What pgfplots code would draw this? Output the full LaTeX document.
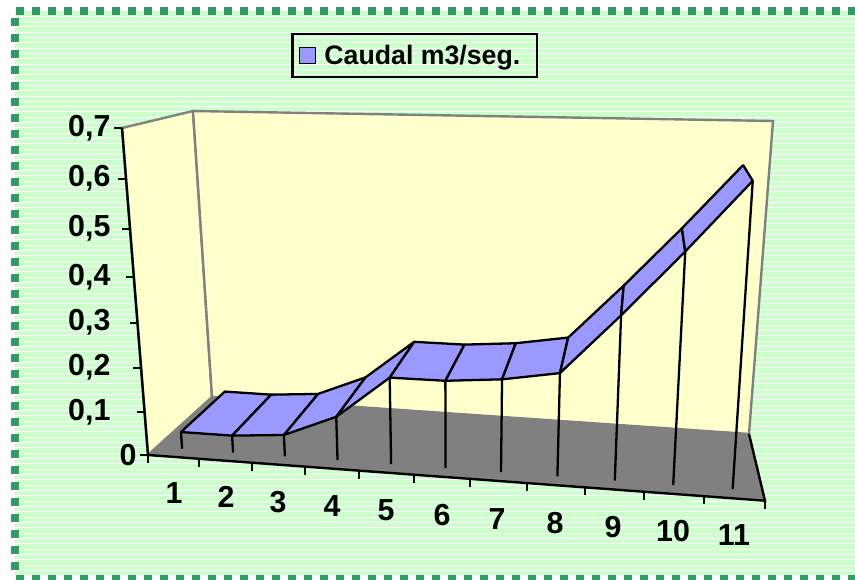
\documentclass[border=0pt]{standalone}
\usepackage{pgfplots}
\usepackage{pgfplotstable}
\pgfplotsset{compat=1.18}
\usepackage{fontspec}
\setmainfont{Liberation Sans}
\definecolor{bgreen}{HTML}{CCFFCC}
\definecolor{dashgreen}{HTML}{339966}
\definecolor{wall}{HTML}{FFFFCC}
\definecolor{ribbon}{HTML}{9999FF}
\definecolor{floorgray}{HTML}{808080}
\newcommand{\lab}{\fontsize{30.5}{31}\selectfont\bfseries}

% Caudal per category: c = category, d = depth in the 3D box (front / back edge), v = value
\pgfplotstableread[row sep=\\]{
c d v\\
1 0.14 0.04\\ 1 0.86 0.04\\
2 0.14 0.04\\ 2 0.86 0.04\\
3 0.14 0.05\\ 3 0.86 0.05\\
4 0.14 0.10\\ 4 0.86 0.10\\
5 0.14 0.195\\ 5 0.86 0.195\\
6 0.14 0.195\\ 6 0.86 0.195\\
7 0.14 0.205\\ 7 0.86 0.205\\
8 0.14 0.225\\ 8 0.86 0.225\\
9 0.14 0.35\\ 9 0.86 0.35\\
10 0.14 0.48\\ 10 0.86 0.48\\
11 0.14 0.615\\ 11 0.86 0.615\\
}\ribbontable

\pgfplotstableread{
c v
1 0.04
2 0.04
3 0.05
4 0.10
5 0.195
6 0.195
7 0.205
8 0.225
9 0.35
10 0.48
11 0.615
}\caudal

\begin{document}
\begin{tikzpicture}[
	% perspective of the Excel 3D box: axes to 0..1, then the 8 corners in pixels
	declare function={
		mapu(\t)=(\t/11)*0.91/(1-0.09*\t/11);
		mapz(\z)=(\z/0.7)*0.9/(1-0.1*\z/0.7);
		px(\u,\d,\f)=((1-\u)*(1-\d)*148+\u*(1-\d)*765+(1-\u)*\d*212+\u*\d*749)*(1-\f)
			+((1-\u)*(1-\d)*122+\u*(1-\d)*791+(1-\u)*\d*193+\u*\d*773)*\f;
		py(\u,\d,\f)=((1-\u)*(1-\d)*455+\u*(1-\d)*500.7+(1-\u)*\d*397+\u*\d*434)*(1-\f)
			+((1-\u)*(1-\d)*128+\u*(1-\d)*136+(1-\u)*\d*111+\u*\d*121)*\f;
	}]
	\begin{axis}[
			scale only axis,
			width=855bp,
			height=580bp,
			xmin=0, xmax=855,
			ymin=0, ymax=580,
			y dir=reverse,
			hide axis,
			clip=false,
			colormap={rib}{rgb255(0cm)=(153,153,255) rgb255(1cm)=(153,153,255)},
			legend style={
				at={(291.5/855,1-33/580)},
				anchor=north west,
				draw=black,
				line width=2.3bp,
				fill=none,
				font=\fontsize{26.8}{28}\selectfont\bfseries,
				inner xsep=6bp,
				inner ysep=9bp,
			},
		]
		% background with white stripes and dashed frame
		\fill[white] (axis cs:0,0) rectangle (axis cs:855,580);
		\fill[bgreen] (axis cs:15,11) rectangle (axis cs:855,576);
		\pgfplotsinvokeforeach{0,...,105}{
			\draw[white, line width=0.9bp] (axis cs:15,{16+#1*5.33}) -- (axis cs:855,{16+#1*5.33});
		}
		\draw[dashgreen, line width=8bp, dash pattern=on 8bp off 8bp] (axis cs:16,10.5) -- (axis cs:855,10.5);
		\draw[dashgreen, line width=8bp, dash pattern=on 8bp off 8bp] (axis cs:15,18) -- (axis cs:15,575);
		\draw[dashgreen, line width=5bp, dash pattern=on 8bp off 8bp] (axis cs:16,577.5) -- (axis cs:855,577.5);

		% walls and floor
		\addplot[fill=wall, draw=floorgray, line width=2.4bp, forget plot] coordinates {
			(148,455) (122,128) (193,111) (212,397) (148,455)
		};
		\addplot[fill=wall, draw=floorgray, line width=2.4bp, forget plot] coordinates {
			(212,397) (193,111) (773,121) (749,434) (212,397)
		};
		\addplot[fill=floorgray, draw=none, forget plot] coordinates {
			(148,455) (212,397) (749,434) (765,500.7) (148,455)
		};
		\addplot[black, line width=2.4bp, forget plot] coordinates {(122,128) (148,455) (765,500.7) (749,434)};

		% ticks
		\addplot[black, line width=2bp, forget plot, quiver={u=-8, v=0}] table[
			x expr={px(0,0,mapz(\thisrow{z}))},
			y expr={py(0,0,mapz(\thisrow{z}))},
		] {
			z
			0
			0.1
			0.2
			0.3
			0.4
			0.5
			0.6
			0.7
		};
		\addplot[black, line width=2bp, forget plot, quiver={u=0, v=8}] table[
			x expr={px(mapu(\thisrow{k}),0,0)},
			y expr={py(mapu(\thisrow{k}),0,0)},
		] {
			k
			0
			1
			2
			3
			4
			5
			6
			7
			8
			9
			10
			11
		};

		% ribbon and drop lines
		\addplot[
			patch,
			patch type=rectangle,
			shader=faceted,
			faceted color=black,
			line width=2.3bp,
			table/row sep=\\,
			point meta=\thisrow{v},
			patch table={
				0 1 3 2\\ 2 3 5 4\\ 4 5 7 6\\ 6 7 9 8\\ 8 9 11 10\\
				10 11 13 12\\ 12 13 15 14\\ 14 15 17 16\\ 16 17 19 18\\ 18 19 21 20\\
			},
			legend image code/.code={%
				\draw[fill=ribbon, draw=black, line width=1.8bp] (0bp,-8bp) rectangle (16bp,8bp);
			},
		] table[
			x expr={px(mapu(\thisrow{c}-0.5),\thisrow{d},mapz(\thisrow{v}))},
			y expr={py(mapu(\thisrow{c}-0.5),\thisrow{d},mapz(\thisrow{v}))},
		] {\ribbontable};
		\addlegendentry{\hspace{6bp}Caudal m3/seg.\kern9bp\relax}
		\addplot[black, line width=2.3bp, forget plot,
			quiver={
				u={px(mapu(\thisrow{c}-0.5),0.14,0)-px(mapu(\thisrow{c}-0.5),0.14,mapz(\thisrow{v}))},
				v={py(mapu(\thisrow{c}-0.5),0.14,0)-py(mapu(\thisrow{c}-0.5),0.14,mapz(\thisrow{v}))},
			},
		] table[
			x expr={px(mapu(\thisrow{c}-0.5),0.14,mapz(\thisrow{v}))},
			y expr={py(mapu(\thisrow{c}-0.5),0.14,mapz(\thisrow{v}))},
		] {\caudal};

		% tick labels
		\node[anchor=east, font=\lab] at (axis cs:114,128) {0,7};
		\node[anchor=east, font=\lab] at (axis cs:114,178) {0,6};
		\node[anchor=east, font=\lab] at (axis cs:114,228) {0,5};
		\node[anchor=east, font=\lab] at (axis cs:114,277) {0,4};
		\node[anchor=east, font=\lab] at (axis cs:114,322) {0,3};
		\node[anchor=east, font=\lab] at (axis cs:114,367) {0,2};
		\node[anchor=east, font=\lab] at (axis cs:114,412) {0,1};
		\node[anchor=east, font=\lab] at (axis cs:140,455) {0};
		\node[font=\lab] at (axis cs:174,493) {1};
		\node[font=\lab] at (axis cs:226,497) {2};
		\node[font=\lab] at (axis cs:278,502) {3};
		\node[font=\lab] at (axis cs:332,506) {4};
		\node[font=\lab] at (axis cs:386,510) {5};
		\node[font=\lab] at (axis cs:442,515) {6};
		\node[font=\lab] at (axis cs:497,519) {7};
		\node[font=\lab] at (axis cs:555,523) {8};
		\node[font=\lab] at (axis cs:613,527) {9};
		\node[font=\lab] at (axis cs:673,531) {10};
		\node[font=\lab] at (axis cs:734,535) {11};
	\end{axis}
	\pgfresetboundingbox
	\useasboundingbox (0,0) rectangle (855bp,580bp);
\end{tikzpicture}
\end{document}
